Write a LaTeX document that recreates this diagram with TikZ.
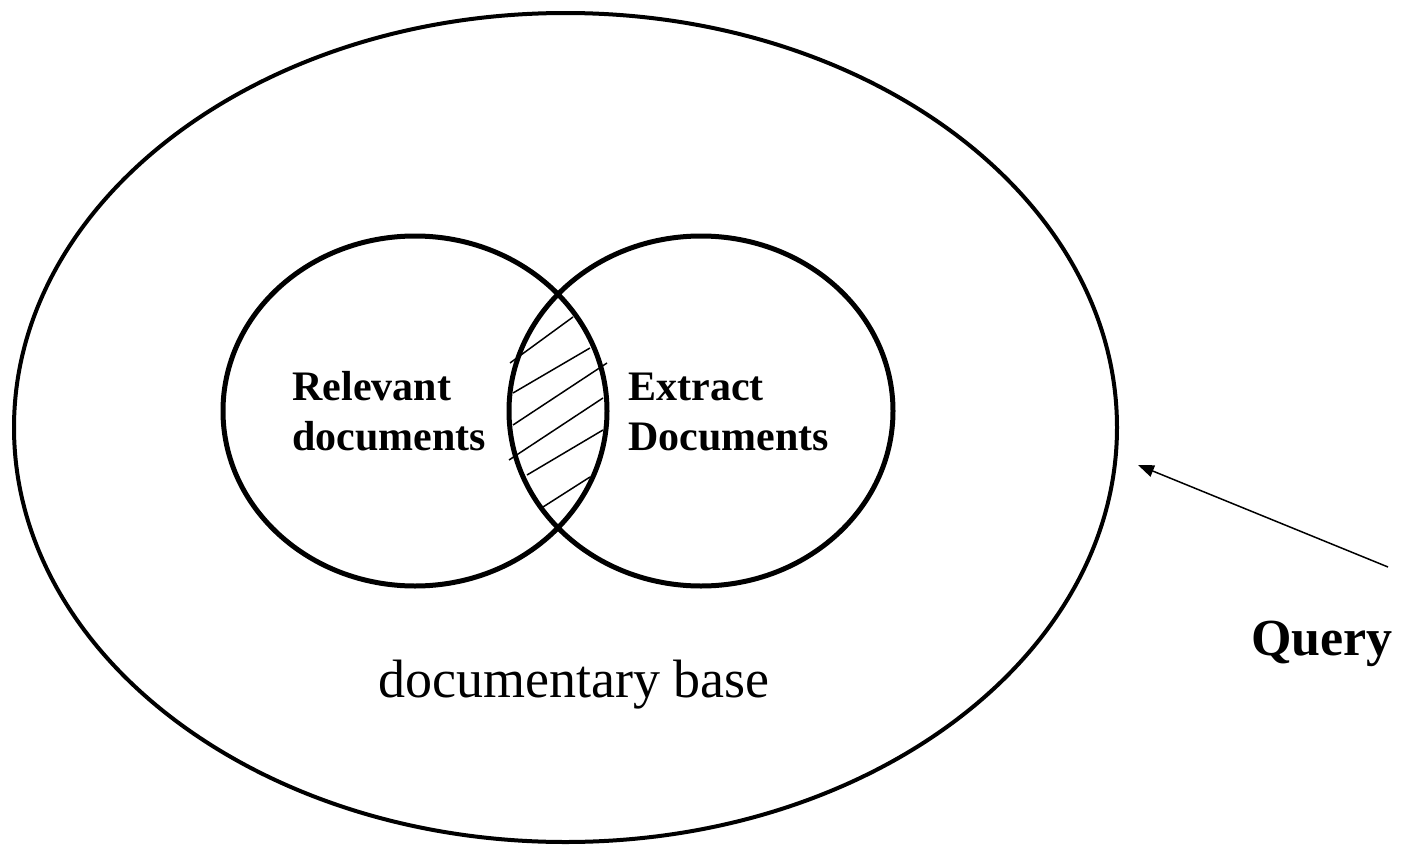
\documentclass[tikz,border=0pt]{standalone}
\usepackage{fontspec}
\setmainfont{Liberation Serif}
\usetikzlibrary{shapes.geometric,arrows.meta}
\tikzset{
  outerset/.style={draw, ellipse, line width=2pt, inner sep=0pt, minimum width=551.5pt, minimum height=414.5pt},
  setcirc/.style={draw, ellipse, line width=2.5pt, inner sep=0pt, minimum width=192pt, minimum height=175pt},
  boldlbl/.style={anchor=base west, inner sep=0pt, font=\fontsize{21}{26}\selectfont\bfseries},
  baselbl/.style={anchor=base, inner sep=0pt, font=\fontsize{27}{32}\selectfont},
  querylbl/.style={anchor=base, inner sep=0pt, font=\fontsize{26}{31}\selectfont\bfseries},
  hatch/.style={line width=0.75pt},
  qarrow/.style={line width=0.75pt, -{Triangle[length=8pt,width=6pt]}}
}
\begin{document}
\begin{tikzpicture}[x=0.5pt,y=-0.5pt]
\useasboundingbox (0,0) rectangle (1414,846);
\node[outerset] (base) at (565.5,427.5) {};
\node[setcirc] (rel) at (415,411) {};
\node[setcirc] (ext) at (701,411) {};
% hatching of the intersection
\draw[hatch] (510,363) -- (573,317);
\draw[hatch] (513,393) -- (590,348);
\draw[hatch] (513,425) -- (607,363);
\draw[hatch] (509,460) -- (603,398);
\draw[hatch] (527,475) -- (603,430);
\draw[hatch] (543,507) -- (590,477);
% labels
\node[boldlbl] (rel1) at (292,400) {Relevant};
\node[boldlbl] (rel2) at (292,450) {documents};
\node[boldlbl] (ext1) at (628,400) {Extract};
\node[boldlbl] (ext2) at (628,450) {Documents};
\node[baselbl] (baselabel) at (574,697) {documentary base};
\node[querylbl] (query) at (1322,655) {Query};
\coordinate (qtail) at (1388,567);
\coordinate (qtip) at (1138,465);
\draw[qarrow] (qtail) -- (qtip);
\end{tikzpicture}
\end{document}
